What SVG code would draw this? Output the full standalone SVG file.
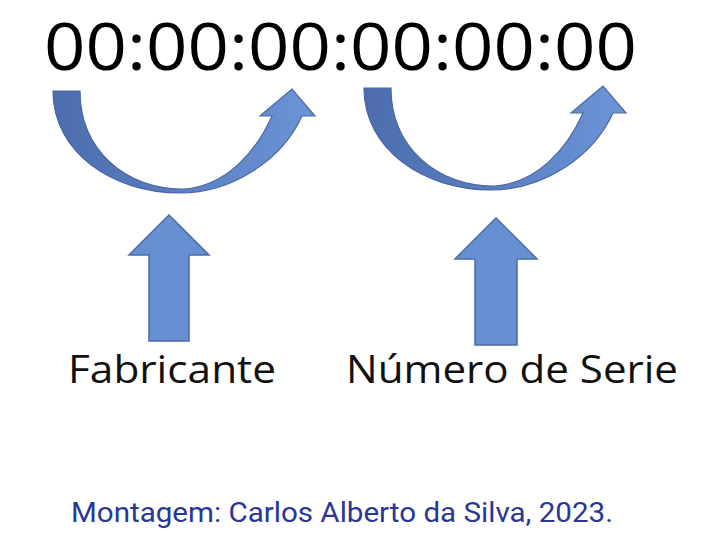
<svg xmlns="http://www.w3.org/2000/svg" width="721" height="550" viewBox="0 0 721 550">
<defs>
<linearGradient id="cg" gradientUnits="userSpaceOnUse" x1="53" y1="0" x2="315" y2="0">
<stop offset="0" stop-color="#4c6dad"/>
<stop offset="0.5" stop-color="#5a80c2"/>
<stop offset="1" stop-color="#6c94d6"/>
</linearGradient>
<style>
.curve{fill:url(#cg);stroke:#4a68a2;stroke-width:1.2;stroke-linejoin:miter}
.up{fill:#6790d2;stroke:#4b6aa4;stroke-width:1.5}
.big{font-family:"Open Sans","DejaVu Sans",sans-serif;font-size:66px;fill:#000}
.lbl{font-family:"Open Sans","DejaVu Sans",sans-serif;font-size:38px;fill:#111}
.cap{font-family:Roboto,"Liberation Sans",sans-serif;font-size:27px;fill:#2a3694}
</style>
<path id="carc" d="M53,91 C53,152 112,193 180,193 C232,193 282,160 302,116 L315,116 L292,89 L260,116 L272,116 C256,152 226,186 184,189 C126,190 80,150 80,91 Z"/>
</defs>
<g id="code">
<text class="big" x="44" y="70" textLength="593" lengthAdjust="spacingAndGlyphs">00:00:00:00:00:00</text>
</g>
<g id="connectors">
<use href="#carc" class="curve"/>
<use href="#carc" class="curve" transform="translate(311,-3)"/>
</g>
<g id="fabricante">
<path class="up" d="M169,215 L209,255 L189,255 L189,341 L149,341 L149,255 L129,255 Z"/>
<text class="lbl" x="68" y="383" textLength="208" lengthAdjust="spacingAndGlyphs">Fabricante</text>
</g>
<g id="numero">
<path class="up" d="M496,218 L537,259 L517,259 L517,345 L475,345 L475,259 L455,259 Z"/>
<text class="lbl" x="346" y="383" textLength="332" lengthAdjust="spacingAndGlyphs">Número de Serie</text>
</g>
<g id="caption">
<text class="cap" x="71" y="522" textLength="542" lengthAdjust="spacingAndGlyphs">Montagem: Carlos Alberto da Silva, 2023.</text>
</g>
</svg>
